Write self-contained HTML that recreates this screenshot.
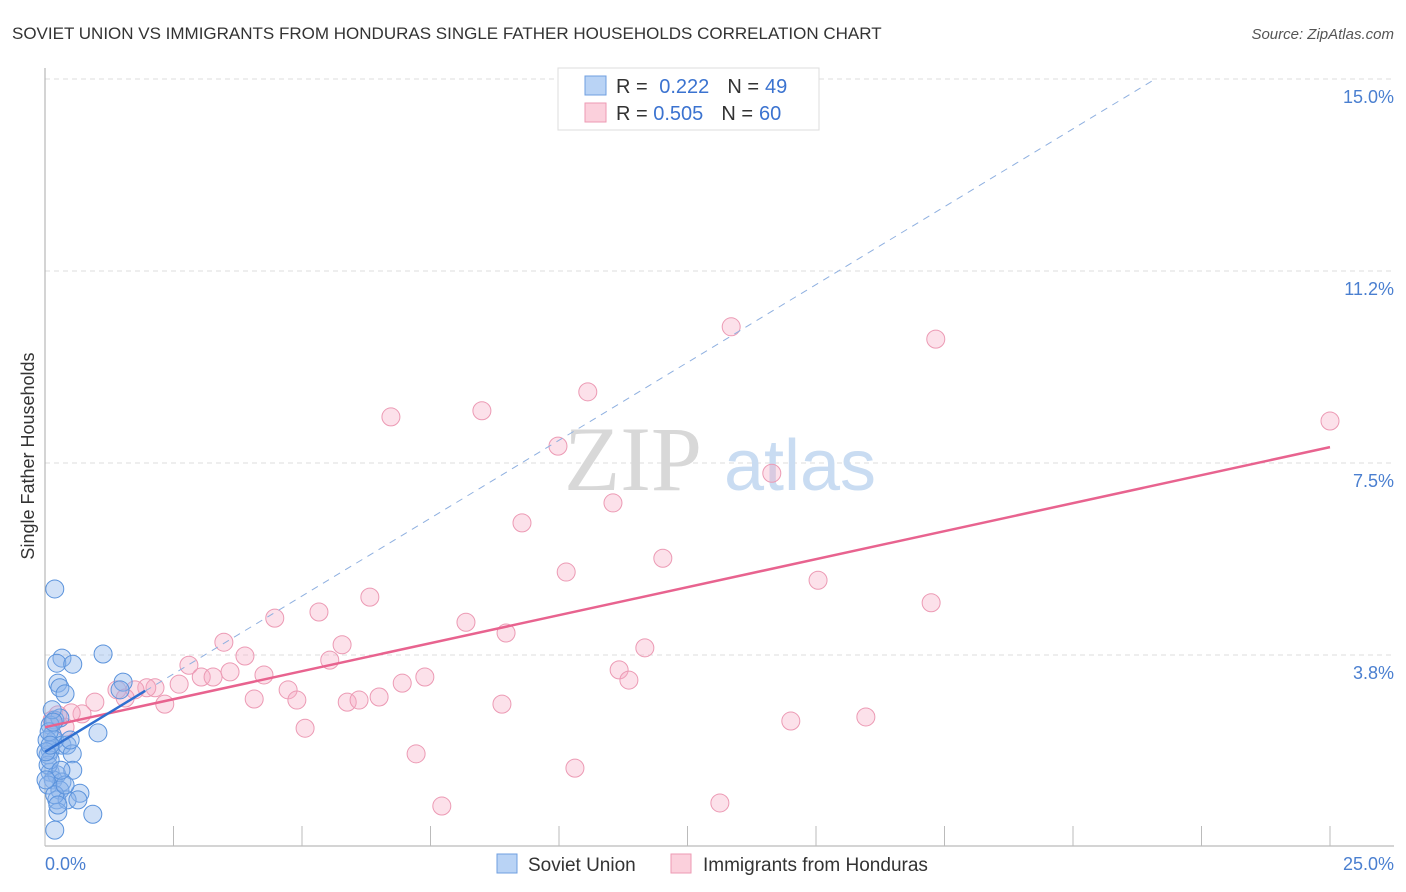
<!DOCTYPE html>
<html><head><meta charset="utf-8"><style>
body{margin:0;background:#fff;font-family:"Liberation Sans",sans-serif;}
svg{display:block}
</style></head><body>
<svg width="1406" height="892">
<text x="12" y="39" font-size="17" fill="#333">SOVIET UNION VS IMMIGRANTS FROM HONDURAS SINGLE FATHER HOUSEHOLDS CORRELATION CHART</text>
<text x="1394" y="39" font-size="15" fill="#555" font-style="italic" text-anchor="end">Source: ZipAtlas.com</text>
<g id="grid"></g>
<text x="633" y="490" font-size="92" fill="#d8d8d8" font-family="Liberation Serif,serif" text-anchor="middle">ZIP</text>
<text x="800" y="490" font-size="72" fill="#c9dcf2" text-anchor="middle">atlas</text>
<g id="marks"></g>
<text transform="translate(34,456) rotate(-90)" font-size="18" fill="#333" text-anchor="middle">Single Father Households</text>
<text x="45" y="870" font-size="18" fill="#4a7fd0">0.0%</text>
<text x="1394" y="870" font-size="18" fill="#4a7fd0" text-anchor="end">25.0%</text>
<g>
<rect x="558" y="68" width="261" height="62" fill="#fff" stroke="#ddd"/>
<rect x="585" y="76" width="21" height="19" fill="#b9d3f5" stroke="#6f9fe0"/>
<rect x="585" y="103" width="21" height="19" fill="#fbd0dc" stroke="#ee9ab3"/>
<text x="616" y="93" font-size="20" fill="#333">R = <tspan fill="#3b73d0" dx="6">0.222</tspan><tspan dx="18" fill="#333">N =</tspan><tspan dx="6" fill="#3b73d0">49</tspan></text>
<text x="616" y="120" font-size="20" fill="#333">R = <tspan fill="#3b73d0">0.505</tspan><tspan dx="18" fill="#333">N =</tspan><tspan dx="6" fill="#3b73d0">60</tspan></text>
</g>
<g>
<rect x="497" y="854" width="20" height="19" fill="#b9d3f5" stroke="#6f9fe0"/>
<text x="528" y="871" font-size="19" fill="#333">Soviet Union</text>
<rect x="671" y="854" width="20" height="19" fill="#fbd0dc" stroke="#ee9ab3"/>
<text x="703" y="871" font-size="19" fill="#333">Immigrants from Honduras</text>
</g>
</svg>
<script>
const yTicks=[3.75,7.5,11.25,15];
const yTickLabels=["3.8%","7.5%","11.2%","15.0%"];
const xTicks=[0,2.5,5,7.5,10,12.5,15,17.5,20,22.5,25];
const blueX=[.19,.33,.23,.54,1.13,.25,.29,.39,1.52,1.46,.19,.29,.10,.14,.19,.33,.43,1.03,.10,.06,.53,.10,.23,.54,.16,.33,.06,.29,.68,.23,.43,.64,.25,.93,.19,.06,.10,.14,.04,.02,.19,.39,.08,.16,.31,.02,.10,.49,.25];
const blueY=[5.04,3.69,3.59,3.57,3.77,3.20,3.11,2.99,3.22,3.07,2.48,2.52,2.38,2.19,2.09,1.99,1.99,2.23,1.89,1.80,1.82,1.46,1.41,1.50,1.31,1.27,1.21,1.11,1.05,.92,.92,.92,.68,.64,.33,1.60,1.70,2.68,2.09,1.86,1.02,1.21,2.25,2.44,1.50,1.31,1.99,2.09,.82];
const pinkX=[13.35,17.33,10.56,6.73,8.50,25.0,9.98,14.14,9.28,11.05,12.02,10.14,15.04,6.32,17.24,5.33,4.47,8.19,8.97,3.48,5.78,11.67,3.89,5.54,2.80,11.17,11.36,3.04,3.27,3.60,4.26,7.39,2.61,6.95,4.73,2.14,1.98,1.75,1.40,4.90,4.07,5.88,6.11,6.50,2.33,1.56,.97,.72,.51,.25,.14,.39,8.89,5.06,14.51,15.97,7.22,10.31,7.72,13.13];
const pinkY=[10.16,9.92,8.89,8.40,8.52,8.32,7.83,7.30,6.33,6.72,5.64,5.37,5.21,4.88,4.77,4.59,4.47,4.39,4.18,4.00,3.95,3.89,3.73,3.65,3.55,3.46,3.26,3.32,3.32,3.42,3.36,3.32,3.18,3.20,3.07,3.11,3.11,3.07,3.07,2.87,2.89,2.83,2.87,2.93,2.79,2.91,2.83,2.60,2.62,2.58,2.48,2.34,2.79,2.32,2.46,2.54,1.82,1.54,.80,.86];
const pinkTrend=[[0,2.34],[25,7.81]];
const blueTrend=[[0,1.86],[1.95,3.05]];
const blueDash=[[0,1.86],[21.6,15.0]];
const NS="http://www.w3.org/2000/svg";
const X=v=>45+v*51.4, Y=v=>847-v*51.2;
function mk(t,a,p){const e=document.createElementNS(NS,t);for(const k in a)e.setAttribute(k,a[k]);p.appendChild(e);return e;}
const g=document.getElementById('grid'), m=document.getElementById('marks');
yTicks.forEach((t,i)=>{
 const l=mk('line',{x1:45,x2:1394,y1:Y(t),y2:Y(t),stroke:'#ddd','stroke-dasharray':'5,4'},g);
 
 
 const tx=mk('text',{x:1394,y:Y(t)+24,'font-size':18,fill:'#4a7fd0','text-anchor':'end'},g);
 tx.textContent=yTickLabels[i];
 
 
});
const ax=mk('line',{x1:45,x2:45,y1:68,y2:846,stroke:'#aaa'},g);


const bx=mk('line',{x1:45,x2:1394,y1:846,y2:846,stroke:'#aaa'},g);


xTicks.forEach(t=>{
 const l=mk('line',{x1:X(t),x2:X(t),y1:826,y2:846,stroke:'#bbb'},g);
 
 
});
pinkX.forEach((v,i)=>{
 const c=mk('circle',{cx:X(v),cy:Y(pinkY[i]),r:9,fill:'rgba(246,170,195,0.35)',stroke:'#ec9ab4','stroke-width':1},m);
 
 
});
blueX.forEach((v,i)=>{
 const c=mk('circle',{cx:X(v),cy:Y(blueY[i]),r:9,fill:'rgba(140,180,235,0.4)',stroke:'#5b93dc','stroke-width':1},m);
 
 
});
let l=mk('line',{x1:X(blueDash[0][0]),y1:Y(blueDash[0][1]),x2:X(blueDash[1][0]),y2:Y(blueDash[1][1]),stroke:'#8fb0e0','stroke-dasharray':'7,6','stroke-width':1},m);


l=mk('line',{x1:X(pinkTrend[0][0]),y1:Y(pinkTrend[0][1]),x2:X(pinkTrend[1][0]),y2:Y(pinkTrend[1][1]),stroke:'#e8638f','stroke-width':2.5},m);


l=mk('line',{x1:X(blueTrend[0][0]),y1:Y(blueTrend[0][1]),x2:X(blueTrend[1][0]),y2:Y(blueTrend[1][1]),stroke:'#2f6fd0','stroke-width':2.5},m);


</script>
</body></html>
